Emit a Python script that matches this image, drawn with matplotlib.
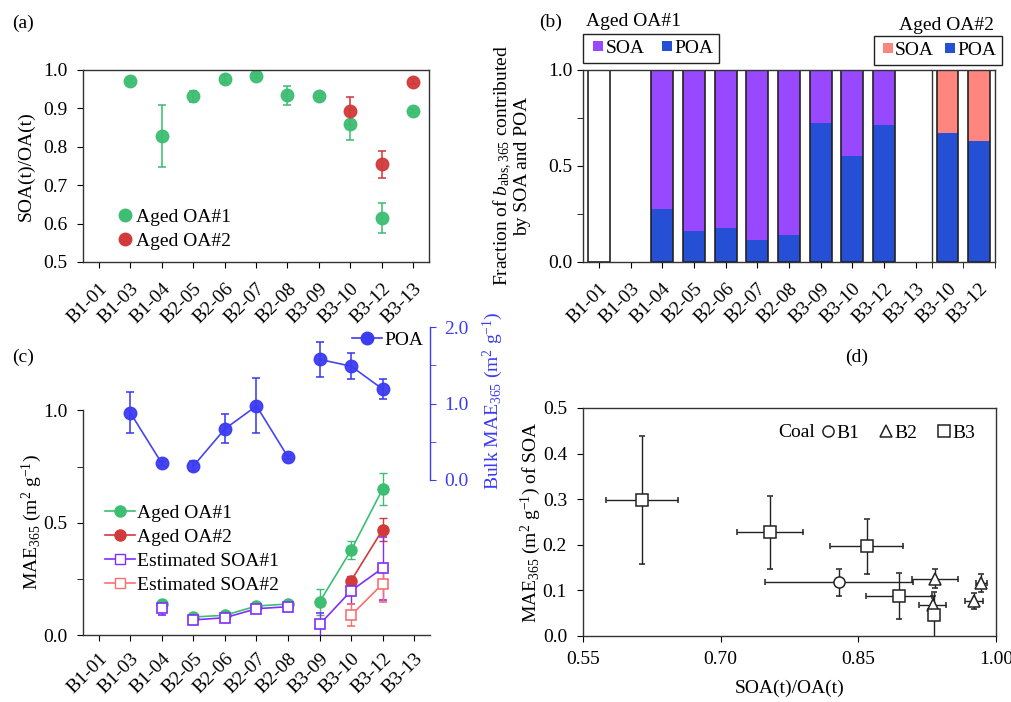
import numpy as np
import matplotlib
matplotlib.use('Agg')
import matplotlib.pyplot as plt
from matplotlib.lines import Line2D
from matplotlib.ticker import FormatStrFormatter

plt.rcParams['font.family'] = ['Liberation Serif', 'DejaVu Serif']
plt.rcParams['mathtext.fontset'] = 'custom'
plt.rcParams['mathtext.rm'] = 'Liberation Serif'
plt.rcParams['mathtext.it'] = 'Liberation Serif:italic'
plt.rcParams['font.size'] = 14
plt.rcParams['axes.linewidth'] = 1.0
plt.rcParams['axes.edgecolor'] = '#333333'
plt.rcParams['xtick.direction'] = 'out'
plt.rcParams['ytick.direction'] = 'out'
plt.rcParams['xtick.major.size'] = 4
plt.rcParams['ytick.major.size'] = 4
plt.rcParams['ytick.minor.size'] = 4
plt.rcParams['xtick.minor.size'] = 4

nan = np.nan

# ---------------- data ----------------
samples = ['B1-01', 'B1-03', 'B1-04', 'B2-05', 'B2-06', 'B2-07', 'B2-08',
           'B3-09', 'B3-10', 'B3-12', 'B3-13']
coal_of_sample = ['B1', 'B1', 'B1', 'B2', 'B2', 'B2', 'B2', 'B3', 'B3', 'B3', 'B3']

# (a) SOA(t)/OA(t)
ratio1 = [nan, 0.971, 0.829, 0.931, 0.976, 0.984, 0.934, 0.932, 0.859, 0.614, 0.893]
ratio1_err = [nan, 0.005, 0.081, 0.015, 0.010, 0.006, 0.025, 0.005, 0.040, 0.039, 0.005]
ratio2 = [nan, nan, nan, nan, nan, nan, nan, nan, 0.894, 0.754, 0.970]
ratio2_err = [nan, nan, nan, nan, nan, nan, nan, nan, 0.036, 0.036, 0.006]

# (b) fraction of b_abs,365 from POA (rest is SOA)
bar_labels1 = samples
poa_frac1 = [0.0, nan, 0.277, 0.163, 0.177, 0.115, 0.143, 0.722, 0.550, 0.715, nan]
bar_labels2 = ['B3-10', 'B3-12']
poa_frac2 = [0.670, 0.631]

# (c) MAE365
mae1 = [nan, nan, 0.138, 0.080, 0.088, 0.129, 0.138, 0.147, 0.378, 0.650, nan]
mae1_err = [nan, nan, 0.010, 0.008, 0.008, 0.010, 0.008, 0.060, 0.040, 0.070, nan]
mae2 = [nan, nan, nan, nan, nan, nan, nan, nan, 0.242, 0.469, nan]
mae2_err = [nan, nan, nan, nan, nan, nan, nan, nan, 0.020, 0.050, nan]
soa_mae1 = [nan, nan, 0.118, 0.067, 0.077, 0.117, 0.126, 0.047, 0.197, 0.298, nan]
soa_mae1_err = [nan, nan, 0.030, 0.020, 0.018, 0.020, 0.020, 0.050, 0.060, 0.140, nan]
soa_mae2 = [nan, nan, nan, nan, nan, nan, nan, nan, 0.088, 0.228, nan]
soa_mae2_err = [nan, nan, nan, nan, nan, nan, nan, nan, 0.050, 0.080, nan]
poa_mae = [nan, 0.88, 0.218, 0.183, 0.67, 0.97, 0.30, 1.58, 1.49, 1.19, nan]
poa_mae_err = [nan, 0.27, 0.03, 0.06, 0.19, 0.36, 0.03, 0.23, 0.17, 0.13, nan]

# ---------------- styles ----------------
green = '#3DBE72'
red = '#D23A3A'
blue_poa = '#3B3BF2'
purple = '#7F2EFF'
pink = '#FF6E6E'
bar_soa1 = '#9848FF'
bar_poa = '#2550D5'
bar_soa2 = '#FF857F'

W, H = 1012, 702
fig = plt.figure(figsize=(W / 100, H / 100), dpi=100)


def pos(l, r, t, b):
    return [l / W, 1 - b / H, (r - l) / W, (b - t) / H]


x = np.arange(len(samples))
groups = {}
for i, c in enumerate(coal_of_sample):
    groups.setdefault(c, []).append(i)


def rot_labels(ax, pad):
    ax.tick_params(axis='x', which='major', pad=pad)
    for lab in ax.get_xticklabels():
        lab.set_rotation(45)
        lab.set_ha('right')
        lab.set_va('top')
        lab.set_rotation_mode('anchor')


# ---------------- (a) ----------------
axa = fig.add_axes(pos(83, 429, 70, 262))
axa.errorbar(x, ratio1, yerr=ratio1_err, fmt='o', color=green, ms=9, capsize=3,
             elinewidth=1.2, capthick=1.2, alpha=0.95)
axa.errorbar(x, ratio2, yerr=ratio2_err, fmt='o', color=red, ms=9, capsize=3,
             elinewidth=1.2, capthick=1.2, alpha=0.95)
axa.set_xlim(-0.5, 10.5)
axa.set_ylim(0.5, 1.0)
axa.set_xticks(x)
axa.set_xticklabels(samples)
rot_labels(axa, 9)
axa.tick_params(axis='y', pad=7)
axa.set_yticks([0.5, 0.6, 0.7, 0.8, 0.9, 1.0])
axa.yaxis.set_major_formatter(FormatStrFormatter('%.1f'))
axa.set_ylabel('SOA(t)/OA(t)')
axa.yaxis.set_label_coords(-0.14, 0.5)
hA = [Line2D([], [], marker='o', ls='none', color=green, ms=9),
      Line2D([], [], marker='o', ls='none', color=red, ms=9)]
axa.legend(hA, ['Aged OA#1', 'Aged OA#2'], loc='upper left', frameon=False,
           bbox_to_anchor=(118 / W, 1 - 208 / H), bbox_transform=fig.transFigure,
           borderpad=0, borderaxespad=0, handlelength=0.7, handletextpad=0.25,
           labelspacing=0.35)
fig.text(12 / W, 1 - 23 / H, '(a)', va='center', ha='left')

# ---------------- (b) ----------------
axb = fig.add_axes(pos(583, 995, 70, 262))
bw = 0.69
for i, p in enumerate(poa_frac1):
    if np.isnan(p):
        continue
    soa_col = 'white' if i == 0 else bar_soa1
    axb.bar(i, p, width=bw, color=bar_poa, lw=0)
    axb.bar(i, 1 - p, bottom=p, width=bw, color=soa_col, lw=0)
    axb.bar(i, 1.0, width=bw, fill=False, edgecolor='#222222', lw=1.2)
off = len(bar_labels1)
for j, p in enumerate(poa_frac2):
    axb.bar(off + j, p, width=bw, color=bar_poa, lw=0)
    axb.bar(off + j, 1 - p, bottom=p, width=bw, color=bar_soa2, lw=0)
    axb.bar(off + j, 1.0, width=bw, fill=False, edgecolor='#222222', lw=1.2)
nb = off + len(poa_frac2)
axb.axvline(off - 0.5, color='#333333', lw=1.0)
axb.set_xlim(-0.5, nb - 0.5)
axb.set_ylim(0, 1.0)
axb.set_xticks(np.arange(nb))
axb.set_xticklabels(bar_labels1 + bar_labels2)
for k, t in enumerate(axb.xaxis.get_major_ticks()):
    if k >= off:
        t.tick1line.set_visible(False)
axb.set_xticks([off - 0.5 + j for j in range(len(poa_frac2) + 1)], minor=True)
rot_labels(axb, 9)
axb.set_yticks([0.0, 0.5, 1.0])
axb.set_yticks([0.25, 0.75], minor=True)
axb.yaxis.set_major_formatter(FormatStrFormatter('%.1f'))
axb.set_ylabel('Fraction of $b_{\\mathrm{abs,365}}$ contributed\nby SOA and POA',
               linespacing=1.0)
axb.yaxis.set_label_coords(-0.125, 0.5)
legkw = dict(ls='none', marker='s', ms=6.5, mew=0)
hB1 = [Line2D([], [], color=bar_soa1, **legkw), Line2D([], [], color=bar_poa, **legkw)]
leg1 = axb.legend(hB1, ['SOA', 'POA'], ncol=2, loc='lower left',
                  bbox_to_anchor=(583 / W, 1 - 63 / H), bbox_transform=fig.transFigure,
                  borderaxespad=0, fancybox=False, edgecolor='#222222', framealpha=1,
                  handlelength=0.9, handletextpad=-0.05, columnspacing=0.7,
                  borderpad=0.3)
leg1.get_frame().set_linewidth(1.0)
axb.add_artist(leg1)
hB2 = [Line2D([], [], color=bar_soa2, **legkw), Line2D([], [], color=bar_poa, **legkw)]
leg2 = axb.legend(hB2, ['SOA', 'POA'], ncol=2, loc='lower right',
                  bbox_to_anchor=(1002 / W, 1 - 65 / H), bbox_transform=fig.transFigure,
                  borderaxespad=0, fancybox=False, edgecolor='#222222', framealpha=1,
                  handlelength=0.8, handletextpad=-0.05, columnspacing=0.45,
                  borderpad=0.3)
leg2.get_frame().set_linewidth(1.0)
fig.text(539 / W, 1 - 22 / H, '(b)', va='center', ha='left')
fig.text(586 / W, 1 - 22 / H, 'Aged OA#1', va='center', ha='left')
fig.text(994 / W, 1 - 26 / H, 'Aged OA#2', va='center', ha='right')

# ---------------- (c) ----------------
axc = fig.add_axes(pos(83, 430, 325, 635))
axc2 = axc.twinx()
series_c = [
    (mae1, mae1_err, green, 'o', green, 8, 'Aged OA#1'),
    (mae2, mae2_err, red, 'o', red, 8, 'Aged OA#2'),
    (soa_mae1, soa_mae1_err, purple, 's', 'white', 6.5, 'Estimated SOA#1'),
    (soa_mae2, soa_mae2_err, pink, 's', 'white', 6.5, 'Estimated SOA#2'),
]
for vals, errs, col, mk, mfc, ms, lab in series_c:
    v = np.array(vals)
    e = np.array(errs)
    for g, idx in groups.items():
        idx = np.array(idx)
        axc.errorbar(x[idx], v[idx], yerr=e[idx], color=col, marker=mk, mfc=mfc,
                     mec=col, ms=ms, lw=1.2, capsize=3, elinewidth=1.0,
                     capthick=1.0, mew=1.2 if mfc == 'white' else 1.0)
pm = np.array(poa_mae)
pe = np.array(poa_mae_err)
for g, idx in groups.items():
    idx = np.array(idx)
    axc2.errorbar(x[idx], pm[idx], yerr=pe[idx], color=blue_poa, marker='o', ms=9,
                  lw=1.2, capsize=3, elinewidth=1.2, capthick=1.2, alpha=0.95)
axc.set_xlim(-0.5, 10.5)
axc.set_ylim(0, 1.38)
axc.set_xticks(x)
axc.set_xticklabels(samples)
rot_labels(axc, 7)
axc.tick_params(axis='y', which='major', pad=7)
axc.set_yticks([0.0, 0.5, 1.0])
axc.set_yticks([0.25, 0.75], minor=True)
axc.yaxis.set_major_formatter(FormatStrFormatter('%.1f'))
axc.spines['top'].set_visible(False)
axc.spines['right'].set_visible(False)
axc.spines['left'].set_bounds(0, 1.0)
axc.set_ylabel('MAE$_{365}$ (m$^{2}$ g$^{-1}$)')
axc.yaxis.set_label_coords(-0.112, 0.365)
axc2.set_ylim(-2.03, 2.03)
axc2.set_yticks([0.0, 1.0, 2.0])
axc2.set_yticks([0.5, 1.5], minor=True)
axc2.yaxis.set_major_formatter(FormatStrFormatter('%.1f'))
for s in ['top', 'left', 'bottom']:
    axc2.spines[s].set_visible(False)
axc2.spines['right'].set_bounds(0, 2.0)
axc2.spines['right'].set_color(blue_poa)
axc2.tick_params(axis='y', which='both', colors=blue_poa, labelcolor=blue_poa)
axc2.tick_params(axis='y', which='major', pad=6.5)
axc2.set_ylabel('Bulk MAE$_{365}$ (m$^{2}$ g$^{-1}$)', color=blue_poa)
axc2.yaxis.set_label_coords(1.145, 0.757)
hC = [Line2D([], [], color=col, marker=mk, mfc=mfc, mec=col, ms=ms, lw=1.2)
      for vals, errs, col, mk, mfc, ms, lab in series_c]
axc.legend(hC, [s[-1] for s in series_c], loc='upper left', frameon=False,
           bbox_to_anchor=(105 / W, 1 - 504 / H), bbox_transform=fig.transFigure,
           borderpad=0, borderaxespad=0, handlelength=1.55, handletextpad=0.1,
           labelspacing=0.33)
axc2.legend([Line2D([], [], color=blue_poa, marker='o', ms=9, lw=1.2)], ['POA'],
            loc='upper left', frameon=False,
            bbox_to_anchor=(352 / W, 1 - 331 / H), bbox_transform=fig.transFigure,
            borderpad=0, borderaxespad=0, handlelength=1.55, handletextpad=0.1)
fig.text(12 / W, 1 - 357 / H, '(c)', va='center', ha='left')

# ---------------- (d) ----------------
axd = fig.add_axes(pos(583, 996, 408, 636))
markers_d = {'B1': 'o', 'B2': '^', 'B3': 's'}
pairs_d = [(ratio1, ratio1_err, soa_mae1, soa_mae1_err),
           (ratio2, ratio2_err, soa_mae2, soa_mae2_err)]
for rx, rxe, my, mye in pairs_d:
    for i in range(len(samples)):
        if np.isnan(rx[i]) or np.isnan(my[i]):
            continue
        axd.errorbar(rx[i], my[i], xerr=rxe[i], yerr=mye[i],
                     marker=markers_d[coal_of_sample[i]], ms=8, mfc='white',
                     mec='#222222', mew=1.1, color='#222222', elinewidth=1.0,
                     capsize=2.5, capthick=1.0, ls='none')
axd.set_xlim(0.55, 1.00)
axd.set_ylim(0, 0.5)
axd.set_xticks([0.55, 0.70, 0.85, 1.00])
axd.xaxis.set_major_formatter(FormatStrFormatter('%.2f'))
axd.set_yticks([0.0, 0.1, 0.2, 0.3, 0.4, 0.5])
axd.yaxis.set_major_formatter(FormatStrFormatter('%.1f'))
axd.tick_params(axis='x', pad=7)
axd.tick_params(axis='y', pad=7.5)
axd.set_xlabel('SOA(t)/OA(t)')
axd.xaxis.set_label_coords(0.5, -0.19)
axd.set_ylabel('MAE$_{365}$ (m$^{2}$ g$^{-1}$) of SOA')
axd.yaxis.set_label_coords(-0.097, 0.5)
hD = [Line2D([], [], marker=markers_d[c], ls='none', mfc='white', mec='#222222',
             ms=8, mew=1.1) for c in ['B1', 'B2', 'B3']]
axd.legend(hD, ['B1', 'B2', 'B3'], ncol=3, loc='center right', frameon=False,
           bbox_to_anchor=(975 / W, 1 - 433 / H), bbox_transform=fig.transFigure,
           borderpad=0, borderaxespad=0, handlelength=0.6, handletextpad=0.1,
           columnspacing=1.1)
fig.text(778 / W, 1 - 433 / H, 'Coal', va='center', ha='left')
fig.text(845 / W, 1 - 357 / H, '(d)', va='center', ha='left')

fig.savefig('out.png', dpi=100)
